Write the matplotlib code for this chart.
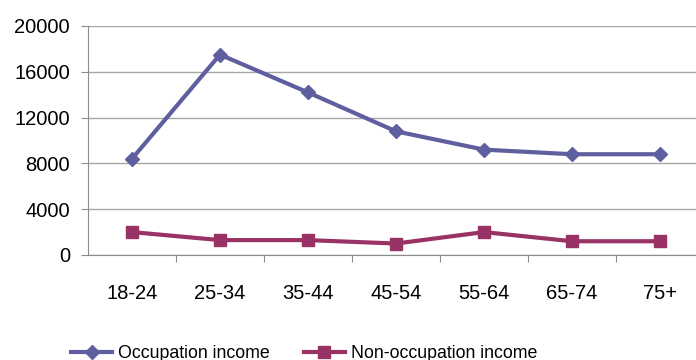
import matplotlib.pyplot as plt

plt.rcParams['font.family'] = ['Liberation Sans', 'DejaVu Sans']

ages = ['18-24', '25-34', '35-44', '45-54', '55-64', '65-74', '75+']
occupation = [8400, 17500, 14200, 10800, 9200, 8800, 8800]
non_occupation = [2000, 1300, 1300, 1000, 2000, 1200, 1200]

fig = plt.figure(figsize=(6.96, 3.6), dpi=100)
ax = fig.add_axes([0.1264, 0.2917, 0.885, 0.6361])

x = list(range(len(ages)))
ax.plot(x, occupation, color='#5f5f9f', lw=3, marker='D', ms=7.5,
        label='Occupation income')
ax.plot(x, non_occupation, color='#993366', lw=3, marker='s', ms=8.8,
        label='Non-occupation income')

ax.set_xlim(-0.5, len(ages) - 0.5)
ax.set_ylim(0, 20000)
ax.set_yticks(range(0, 20001, 4000))
# boundary ticks between categories, labels centred on the categories
ax.set_xticks([i + 0.5 for i in x[:-1]])
ax.set_xticks(x, minor=True)
ax.set_xticklabels([])
ax.set_xticklabels(ages, minor=True)
ax.grid(axis='y', color='#a6a6a6', lw=1)
ax.set_axisbelow(True)

for s in ('top', 'right'):
    ax.spines[s].set_visible(False)
for s in ('left', 'bottom'):
    ax.spines[s].set_color('#8c8c8c')
ax.tick_params(axis='y', length=5, color='#8c8c8c', labelsize=14.5, pad=8)
ax.tick_params(axis='x', which='major', length=5, color='#8c8c8c')
ax.tick_params(axis='x', which='minor', length=0, labelsize=14.5, pad=21)

fig.legend(loc='center', bbox_to_anchor=(0.437, 0.018), ncol=2,
           frameon=False, fontsize=12.8, handlelength=2.3, columnspacing=1.9,
           handletextpad=0.35)

fig.savefig('out.png', dpi=100)
